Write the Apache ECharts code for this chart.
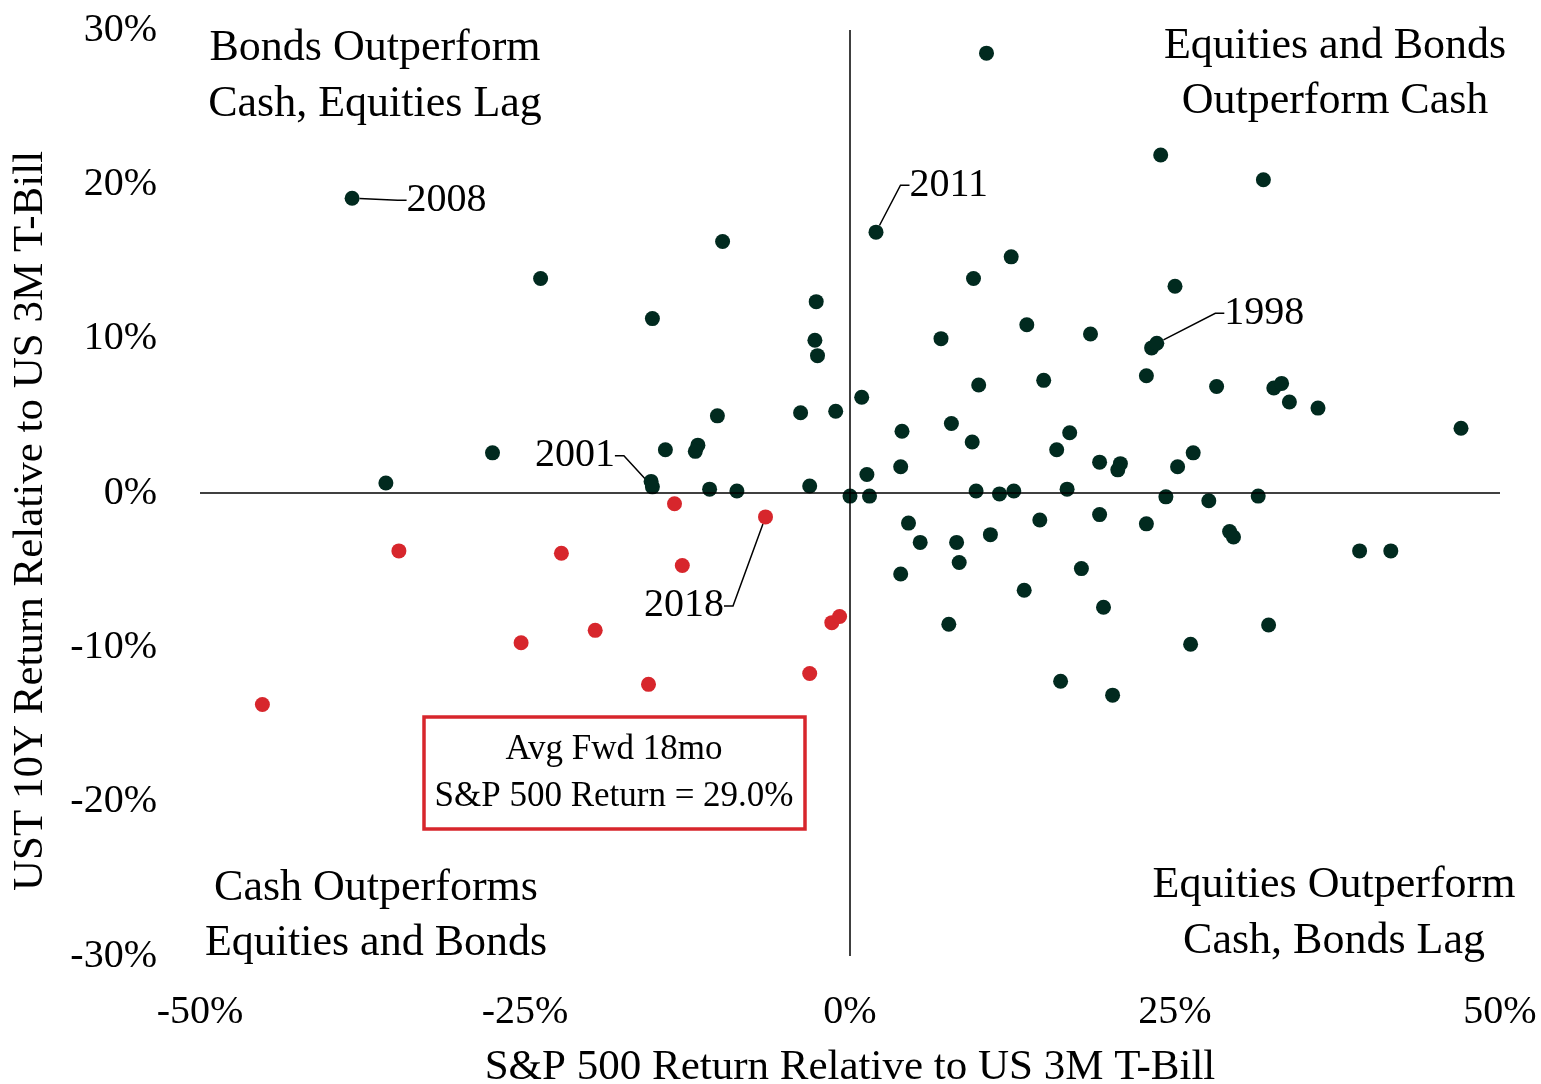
<!DOCTYPE html>
<html>
<head>
<meta charset="utf-8">
<title>Equities vs Bonds vs Cash</title>
<script src="https://cdn.jsdelivr.net/npm/echarts/dist/echarts.min.js"></script>
<style>
  html, body { margin: 0; padding: 0; background: #fff; }
  #chart { width: 1541px; height: 1084px; }
</style>
</head>
<body>
<div id="chart"></div>
<script>
  // S&P 500 vs UST 10Y, both relative to 3M T-Bill (in %)
  // years where equities or bonds beat cash
  const spxDark = [
    -23.8, -15.2, -27.5, -35.7, -15.3, -14.2, -9.8, -2.6, -2.7, -2.5,
    12.4, 9.5, 13.6, 18.5, 7.0, 9.9, 14.9, 0.9, -1.1, -3.8,
    -10.2, 7.8, 4.0, 16.9, 9.4, 15.9, 19.2, -11.7, -11.9, 3.9,
    1.3, -3.1, -10.8, -8.7, 0.0, 1.5, 9.7, 11.5, 12.6, 16.7,
    14.6, 19.2, 4.5, 5.4, 8.2, 10.8, 23.9, 31.8, 25.0, 23.2,
    22.8, 28.2, 32.6, 33.2, 33.8, 36.0, 47.0, 20.8, 20.6, 25.2,
    26.4, 24.3, 27.6, 31.4, 22.8, 29.2, 29.5, 39.2, 41.6, 17.8,
    19.5, 32.2, 26.2, 16.2, 20.2, 8.4, 3.9, 13.4, 7.6, 10.5
  ]
  const ustDark = [
    13.9, 11.3, 2.6, 0.65, 0.75, 2.8, 16.3, 12.4, 9.9, 8.9,
    15.3, 13.9, 10.9, 10.3, 10.0, 7.0, 7.3, 6.2, 5.3, 5.2,
    5.0, 4.5, 4.0, 3.9, 3.3, 2.8, 2.0, 3.1, 2.7, 1.7,
    1.2, 0.45, 0.25, 0.13, -0.2, -0.2, 0.13, -0.06, 0.13, 0.25,
    -1.75, -1.4, -1.95, -3.2, -3.2, -2.7, 21.9, 20.3, 13.4, 9.4,
    7.6, 6.9, 6.8, 7.1, 5.9, 5.5, 4.2, 1.9, 1.5, 1.7,
    2.6, -0.25, -0.5, -0.2, -2.0, -2.5, -2.85, -3.75, -3.75, -4.9,
    -7.4, -8.55, -9.8, -12.2, -13.1, -4.5, -5.25, -6.3, -8.5, 28.5
  ]
  // years where cash beat both
  const spxRed = [-45.2, -34.7, -22.2, -25.3, -19.6, -15.5, -13.5, -12.9, -1.4, -0.8, -3.1]
  const ustRed = [-13.7, -3.75, -3.9, -9.7, -8.9, -12.4, -0.7, -4.7, -8.4, -8.0, -11.7]

  // called-out years
  const calloutYears = ['2008', '2011', '2001', '1998', '2018']
  const calloutSpx = [-38.3, 2.0, -15.2, 23.6, -6.5]
  const calloutUst = [19.1, 16.9, 0.4, 9.7, -1.55]

  const xTicks = [-50, -25, 0, 25, 50]
  const yTicks = [-30, -20, -10, 0, 10, 20, 30]

  const DARK = '#012a1f'
  const RED = '#d7262c'
  const FONT = "'Liberation Serif', 'Times New Roman', serif"

  // label placement for the callouts: [position, dx, dy]
  const calloutPlace = {
    '2008': ['right', 42, 2],
    '2011': ['right', 21, -47],
    '2001': ['left', -25, -31],
    '1998': ['right', 55, -30],
    '2018': ['left', -29, 89]
  }

  let myChart = echarts.init(document.getElementById('chart'))

  let zip = (xs, ys) => xs.map((x, i) => [x, ys[i]])

  let option = {
    animation: false,
    textStyle: { fontFamily: FONT },
    grid: { left: 200, right: 41, top: 30, bottom: 128, outerBoundsMode: 'none', containLabel: false },
    xAxis: {
      type: 'value',
      min: xTicks[0],
      max: xTicks[xTicks.length - 1],
      interval: 25,
      name: 'S&P 500 Return Relative to US 3M T-Bill',
      nameLocation: 'middle',
      nameGap: 90,
      nameTextStyle: { fontFamily: FONT, fontSize: 43, color: '#000' },
      axisLine: { show: false },
      axisTick: { show: false },
      splitLine: { show: false },
      axisLabel: { formatter: '{value}%', fontFamily: FONT, fontSize: 40, color: '#000', margin: 36 }
    },
    yAxis: {
      type: 'value',
      min: yTicks[0],
      max: yTicks[yTicks.length - 1],
      interval: 10,
      name: 'UST 10Y Return Relative to US 3M T-Bill',
      nameLocation: 'middle',
      nameGap: 148,
      nameTextStyle: { fontFamily: FONT, fontSize: 43, color: '#000', padding: [0, 56, 0, 0] },
      axisLine: { show: false },
      axisTick: { show: false },
      splitLine: { show: false },
      axisLabel: { formatter: '{value}%', fontFamily: FONT, fontSize: 40, color: '#000', margin: 43 }
    },
    series: [
      {
        // zero lines (drawn first so the dots sit on top)
        type: 'scatter',
        data: [],
        silent: true,
        markLine: {
          silent: true,
          symbol: 'none',
          label: { show: false },
          lineStyle: { color: '#000', width: 1.5, type: 'solid' },
          data: [{ xAxis: 0 }, { yAxis: 0 }]
        }
      },
      {
        name: 'Equities or Bonds beat Cash',
        type: 'scatter',
        symbolSize: 15,
        itemStyle: { color: DARK, opacity: 1 },
        data: zip(spxDark, ustDark)
      },
      {
        name: 'Cash beats both',
        type: 'scatter',
        symbolSize: 15,
        itemStyle: { color: RED, opacity: 1 },
        data: zip(spxRed, ustRed)
      },
      {
        name: 'Callouts',
        type: 'scatter',
        symbolSize: 15,
        itemStyle: {
          opacity: 1,
          color: p => (p.value[0] < 0 && p.value[1] < 0) ? RED : DARK
        },
        data: calloutYears.map((y, i) => ({
          name: y,
          value: [calloutSpx[i], calloutUst[i]],
          label: { position: calloutPlace[y][0] }
        })),
        label: {
          show: true,
          formatter: p => p.name,
          fontFamily: FONT,
          fontSize: 40,
          color: '#000'
        },
        labelLine: {
          show: true,
          length2: 9,
          minTurnAngle: 0,
          lineStyle: { color: '#000', width: 1.5 }
        },
        labelLayout: function (params) {
          let place = calloutPlace[calloutYears[params.dataIndex]]
          return { dx: place[1], dy: place[2] }
        }
      }
    ],
    graphic: [
      {
        type: 'text', x: 375, y: 76, z: 10,
        style: { text: 'Bonds Outperform\nCash, Equities Lag', fill: '#000', fontFamily: FONT, fontSize: 44, lineHeight: 56, textAlign: 'center', textVerticalAlign: 'middle' }
      },
      {
        type: 'text', x: 1335, y: 74, z: 10,
        style: { text: 'Equities and Bonds\nOutperform Cash', fill: '#000', fontFamily: FONT, fontSize: 44, lineHeight: 55, textAlign: 'center', textVerticalAlign: 'middle' }
      },
      {
        type: 'text', x: 376, y: 916, z: 10,
        style: { text: 'Cash Outperforms\nEquities and Bonds', fill: '#000', fontFamily: FONT, fontSize: 44, lineHeight: 55, textAlign: 'center', textVerticalAlign: 'middle' }
      },
      {
        type: 'text', x: 1334, y: 913, z: 10,
        style: { text: 'Equities Outperform\nCash, Bonds Lag', fill: '#000', fontFamily: FONT, fontSize: 44, lineHeight: 56, textAlign: 'center', textVerticalAlign: 'middle' }
      },
      {
        type: 'rect', z: 10,
        shape: { x: 424, y: 717, width: 381, height: 112 },
        style: { fill: '#fff', stroke: RED, lineWidth: 3.5 }
      },
      {
        type: 'text', x: 614, y: 773, z: 11,
        style: { text: 'Avg Fwd 18mo\nS&P 500 Return = 29.0%', fill: '#000', fontFamily: FONT, fontSize: 35, lineHeight: 47, textAlign: 'center', textVerticalAlign: 'middle' }
      }
    ]
  }

  myChart.setOption(option)
  window.onresize = myChart.resize
</script>
</body>
</html>
